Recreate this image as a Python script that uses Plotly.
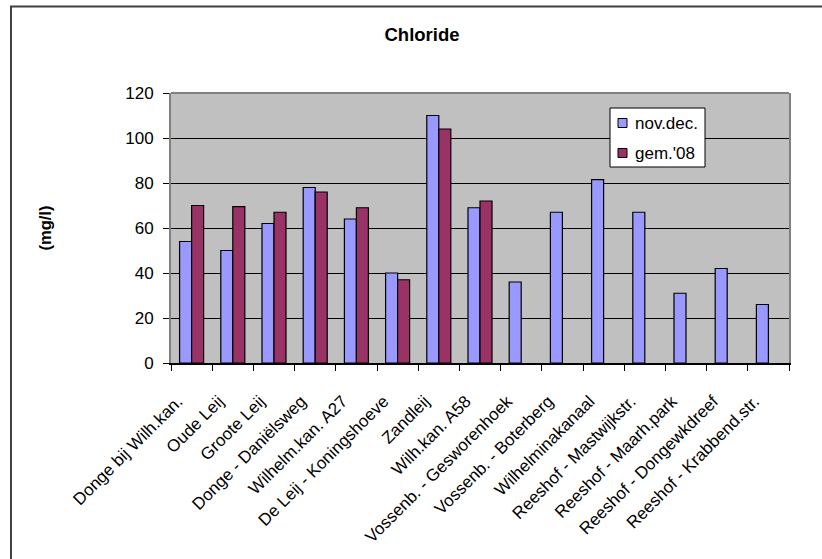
import plotly.graph_objects as go

# Measuring points along the water courses
locations = [
    "Donge bij Wilh.kan.",
    "Oude Leij",
    "Groote Leij",
    "Donge - Daniëlsweg",
    "Wilhelm.kan. A27",
    "De Leij - Koningshoeve",
    "Zandleij",
    "Wilh.kan. A58",
    "Vossenb. - Gesworenhoek",
    "Vossenb. - Boterberg",
    "Wilhelminakanaal",
    "Reeshof - Mastwijkstr.",
    "Reeshof - Maarh.park",
    "Reeshof - Dongewkdreef",
    "Reeshof - Krabbend.str.",
]

# Chloride concentrations in mg/l
nov_dec = [54, 50, 62, 78, 64, 40, 110, 69, 36, 67, 81.5, 67, 31, 42, 26]
gem_08 = [70, 69.5, 67, 76, 69, 37, 104, 72, None, None, None, None, None, None, None]

series_names = ["nov.dec.", "gem.'08"]
series_colors = ["#9999FF", "#993366"]

y_ticks = [0, 20, 40, 60, 80, 100, 120]

FONT = "Liberation Sans, Arial, sans-serif"
W, H = 822, 559
L, R, T, B = 171, 33, 93, 196
PW, PH = W - L - R, H - T - B


def px_x(x):
    return (x - L) / PW


def px_y(y):
    return (H - B - y) / PH


fig = go.Figure()
for name, color, vals in zip(series_names, series_colors, [nov_dec, gem_08]):
    fig.add_trace(go.Bar(
        x=locations, y=vals, name=name,
        marker=dict(color=color, line=dict(color="black", width=1.2)),
        showlegend=False,
    ))

fig.update_layout(
    width=W, height=H,
    margin=dict(l=L, r=R, t=T, b=B, pad=0),
    paper_bgcolor="white",
    plot_bgcolor="#C0C0C0",
    barmode="group",
    bargap=0.417,
    bargroupgap=0,
    font=dict(family=FONT, size=17, color="black"),
    title=dict(
        text="<b>Chloride</b>", x=422 / W, xanchor="center",
        y=1 - 35 / H, yanchor="middle",
        font=dict(family=FONT, size=18.5, color="black"),
    ),
)

fig.update_xaxes(
    type="category",
    tickangle=-45,
    tickson="boundaries",
    ticks="outside", ticklen=6, tickcolor="black", tickwidth=1,
    ticklabelshift=-14, ticklabelstandoff=20,
    showline=True, linecolor="black", linewidth=1.5,
    showgrid=False,
    tickfont=dict(family=FONT, size=17, color="black"),
)
fig.update_yaxes(
    range=[0, 120],
    tickvals=y_ticks,
    ticks="outside", ticklen=6, tickcolor="black", tickwidth=1,
    ticklabelstandoff=6,
    showline=True, linecolor="#808080", linewidth=2, mirror=True,
    showgrid=True, gridcolor="black", gridwidth=1,
    zeroline=False,
    tickfont=dict(family=FONT, size=17, color="black"),
)

# Top edge of the plot area
fig.add_shape(type="line", xref="paper", yref="paper",
              x0=0, x1=1, y0=1, y1=1,
              line=dict(color="#808080", width=2), layer="above")

# Chart-area frame
fig.add_shape(type="rect", xref="paper", yref="paper",
              x0=px_x(11), x1=px_x(W + 10), y0=px_y(6.5), y1=px_y(H + 10),
              line=dict(color="#404040", width=2), layer="below")

# Legend box with swatches and labels
fig.add_shape(type="rect", xref="paper", yref="paper",
              x0=px_x(610), x1=px_x(705), y0=px_y(108), y1=px_y(167),
              fillcolor="white", line=dict(color="black", width=1), layer="above")
for i, (name, color) in enumerate(zip(series_names, series_colors)):
    cy = 123 + 30 * i
    fig.add_shape(type="rect", xref="paper", yref="paper",
                  x0=px_x(618), x1=px_x(627), y0=px_y(cy - 4.5), y1=px_y(cy + 4.5),
                  fillcolor=color, line=dict(color="black", width=1), layer="above")
    fig.add_annotation(
        text=name, xref="paper", yref="paper",
        x=px_x(633), y=px_y(cy), xanchor="left", yanchor="middle",
        showarrow=False,
        font=dict(family=FONT, size=17, color="black"),
    )

# Vertical axis title
fig.add_annotation(
    text="<b>(mg/l)</b>", xref="paper", yref="paper",
    x=px_x(44.5), y=0.5, xanchor="center", yanchor="middle",
    textangle=-90, showarrow=False,
    font=dict(family=FONT, size=16.5, color="black"),
)

fig.write_html("out.html")
